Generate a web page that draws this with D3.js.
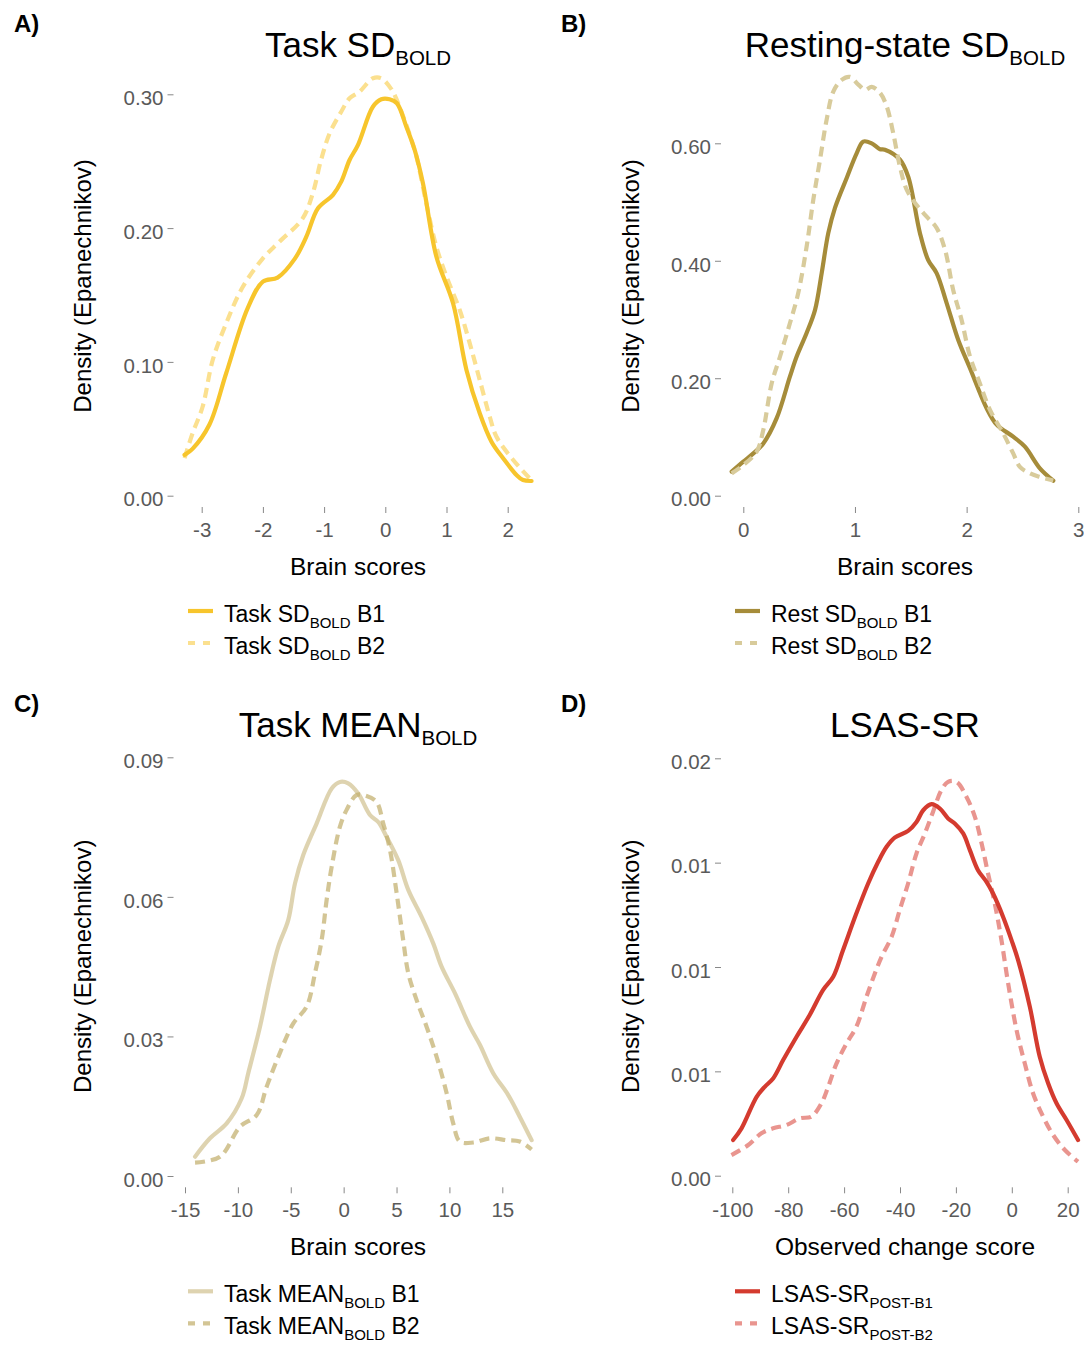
<!DOCTYPE html>
<html><head><meta charset="utf-8">
<script src="https://cdn.jsdelivr.net/npm/d3@7"></script>
<style>
html,body{margin:0;padding:0;background:#fff;}
svg{display:block;font-family:"Liberation Sans",Arial,Helvetica,sans-serif;}
</style></head>
<body>
<svg id="chart" width="1084" height="1345"></svg>
<script>
// ---------- data ----------
const taskSD_B1 = [[-3.28,0.0305],[-3.15,0.035],[-2.875,0.053],[-2.6,0.0915],[-2.25,0.14],[-2.0,0.16],[-1.76,0.163],[-1.48,0.177],[-1.29,0.1936],[-1.1,0.2148],[-0.857,0.2247],[-0.72,0.2347],[-0.584,0.2509],[-0.448,0.262],[-0.203,0.2907],[-0.065,0.2963],[0.07,0.2963],[0.19,0.2933],[0.344,0.2758],[0.48,0.2584],[0.615,0.2335],[0.835,0.1786],[1.107,0.1438],[1.326,0.094],[1.543,0.0616],[1.735,0.0404],[1.925,0.028],[2.144,0.0155],[2.25,0.0117],[2.39,0.011]];
const taskSD_B2 = [[-3.28,0.028],[-3.15,0.0466],[-2.985,0.0665],[-2.82,0.1014],[-2.6,0.1288],[-2.33,0.156],[-2.0,0.1774],[-1.73,0.1898],[-1.35,0.2073],[-1.185,0.226],[-1.05,0.2509],[-0.91,0.2708],[-0.72,0.287],[-0.584,0.297],[-0.42,0.302],[-0.203,0.312],[-0.065,0.312],[0.07,0.3057],[0.152,0.2995],[0.344,0.277],[0.5,0.255],[0.67,0.2185],[0.835,0.186],[1.0,0.1637],[1.216,0.1388],[1.38,0.1139],[1.543,0.0865],[1.707,0.059],[1.817,0.044],[2.09,0.0267],[2.36,0.013]];
const restSD_B1 = [[-0.104,0.041],[0,0.058],[0.09,0.072],[0.179,0.089],[0.299,0.132],[0.418,0.203],[0.478,0.237],[0.567,0.277],[0.642,0.316],[0.702,0.379],[0.761,0.447],[0.821,0.49],[0.926,0.541],[1.015,0.583],[1.074,0.603],[1.15,0.6],[1.224,0.59],[1.268,0.589],[1.403,0.572],[1.477,0.543],[1.582,0.447],[1.656,0.401],[1.731,0.379],[1.821,0.328],[1.925,0.265],[2.03,0.217],[2.179,0.149],[2.269,0.121],[2.417,0.1005],[2.522,0.0835],[2.656,0.0467],[2.776,0.0256]];
const restSD_B2 = [[-0.104,0.038],[0,0.052],[0.12,0.075],[0.179,0.112],[0.254,0.191],[0.329,0.237],[0.418,0.294],[0.492,0.345],[0.567,0.424],[0.627,0.504],[0.687,0.572],[0.746,0.64],[0.806,0.688],[0.881,0.708],[0.955,0.713],[1.03,0.7],[1.09,0.691],[1.15,0.696],[1.224,0.686],[1.284,0.663],[1.343,0.617],[1.403,0.56],[1.463,0.521],[1.552,0.495],[1.642,0.475],[1.731,0.456],[1.806,0.419],[1.88,0.35],[1.955,0.299],[2.03,0.237],[2.119,0.191],[2.209,0.146],[2.328,0.106],[2.417,0.072],[2.477,0.049],[2.567,0.038],[2.656,0.032],[2.776,0.026]];
const taskMEAN_B1 = [[-14.05,0.00415],[-12.64,0.0081],[-11.06,0.0113],[-9.64,0.0167],[-9.02,0.0221],[-7.91,0.0321],[-6.97,0.0421],[-6.18,0.0493],[-5.24,0.055],[-4.6,0.0629],[-3.82,0.069],[-2.55,0.0758],[-1.13,0.0833],[-0.35,0.0847],[0.43,0.0844],[1.38,0.0822],[2.49,0.0776],[3.27,0.0761],[4.06,0.0729],[5.16,0.0679],[6.11,0.0615],[7.37,0.0557],[8.47,0.05],[9.26,0.045],[10.52,0.0393],[11.94,0.0321],[12.88,0.0282],[14.14,0.0221],[15.56,0.0174],[16.66,0.0127],[17.77,0.0077]];
const taskMEAN_B2 = [[-14.05,0.00286],[-11.69,0.00415],[-9.8,0.0106],[-8.22,0.0131],[-7.28,0.0192],[-6.18,0.0256],[-4.76,0.0328],[-3.5,0.0364],[-2.71,0.0436],[-2.08,0.0507],[-1.61,0.0593],[-1.13,0.0665],[-0.35,0.0751],[0.28,0.0787],[1.23,0.0819],[2.17,0.0817],[3.12,0.0804],[3.74,0.0758],[4.38,0.0701],[5.01,0.0608],[5.63,0.0507],[6.11,0.0436],[6.9,0.0378],[7.84,0.0321],[8.79,0.0256],[9.74,0.0178],[10.36,0.0113],[10.99,0.0074],[12.25,0.0072],[13.83,0.0081],[15.41,0.0077],[16.66,0.0074],[17.77,0.0057]];
const lsas_B1 = [[-99.7,0.00171],[-96.7,0.00227],[-91.3,0.00378],[-88.4,0.00426],[-85.4,0.00466],[-81.8,0.00554],[-77.0,0.00666],[-72.3,0.0077],[-67.5,0.0089],[-63.9,0.00953],[-60.4,0.0108],[-55.6,0.01257],[-51.4,0.014],[-47.8,0.01504],[-44.8,0.01576],[-41.9,0.0162],[-37.1,0.01652],[-34.1,0.01695],[-31.7,0.01751],[-28.7,0.0178],[-25.8,0.0176],[-22.8,0.01712],[-20.4,0.01688],[-17.4,0.0164],[-15.0,0.0156],[-12.1,0.01464],[-9.05,0.01408],[-6.7,0.01352],[-3.1,0.0124],[-0.1,0.01129],[2.25,0.01033],[6.44,0.0081],[10.0,0.0057],[13.0,0.00443],[16.0,0.00347],[19.6,0.00267],[23.7,0.00171]];
const lsas_B2 = [[-100.3,0.00099],[-94.3,0.00147],[-89.6,0.00203],[-85.4,0.00227],[-80.6,0.00243],[-75.8,0.00275],[-71.7,0.00283],[-68.1,0.00347],[-65.7,0.00426],[-62.7,0.00538],[-59.1,0.00634],[-55.6,0.00714],[-52.0,0.00857],[-49.0,0.00969],[-46.6,0.01049],[-43.0,0.01145],[-40.1,0.01273],[-37.1,0.014],[-34.1,0.01544],[-31.1,0.0164],[-28.2,0.01743],[-25.2,0.01847],[-22.8,0.01887],[-19.8,0.01887],[-16.2,0.01815],[-13.2,0.01719],[-10.8,0.01592],[-8.5,0.01448],[-6.1,0.01305],[-3.7,0.01129],[-1.3,0.00921],[1.7,0.00698],[4.65,0.00538],[7.6,0.00395],[11.2,0.00283],[14.8,0.00195],[19.0,0.00123],[23.7,0.00067]];

const xTicksA = [-3,-2,-1,0,1,2];
const xTicksB = [0,1,2,3];
const xTicksC = [-15,-10,-5,0,5,10,15];
const xTicksD = [-100,-80,-60,-40,-20,0,20];
const yTicksA = [0,0.1,0.2,0.3];
const yTicksB = [0,0.2,0.4,0.6];
const yTicksC = [0,0.03,0.06,0.09];
const yTicksD = [0,0.005,0.01,0.015,0.02];
const yTickLabelsD = ["0.00","0.01","0.01","0.01","0.02"];

const panelLetters = ["A)","B)","C)","D)"];
const titles = [["Task SD","BOLD"],["Resting-state SD","BOLD"],["Task MEAN","BOLD"],["LSAS-SR",""]];
const xTitles = ["Brain scores","Brain scores","Brain scores","Observed change score"];
const yTitle = "Density (Epanechnikov)";
const legendA = [["Task SD","BOLD"," B1"],["Task SD","BOLD"," B2"]];
const legendB = [["Rest SD","BOLD"," B1"],["Rest SD","BOLD"," B2"]];
const legendC = [["Task MEAN","BOLD"," B1"],["Task MEAN","BOLD"," B2"]];
const legendD = [["LSAS-SR","POST-B1",""],["LSAS-SR","POST-B2",""]];

// ---------- drawing ----------
const svg = d3.select("#chart");
const ROW = 680.3;
const hyphenInt = d => String(d);

const panels = [
  {letter:panelLetters[0], lx:14, title:titles[0], xt:xTitles[0], leg:legendA, oy:0, cx:358, ytx:83,
   xd:[-3,2], xr:[201.7,507.7], yd:[0,0.3], yr:[495.7,94.3], axX:173.5, xTicks:xTicksA, yTicks:yTicksA, yFmt:d3.format(".2f"),
   series:[{d:taskSD_B2,c:"#fbe08f",dash:true},{d:taskSD_B1,c:"#f7c52c",dash:false}], legX:188},
  {letter:panelLetters[1], lx:561, title:titles[1], xt:xTitles[1], leg:legendB, oy:0, cx:905, ytx:631,
   xd:[0,3], xr:[743.3,1078.3], yd:[0,0.6], yr:[495.7,143.3], axX:721, xTicks:xTicksB, yTicks:yTicksB, yFmt:d3.format(".2f"),
   series:[{d:restSD_B1,c:"#a68c3a",dash:false},{d:restSD_B2,c:"#d8cb9b",dash:true}], legX:735},
  {letter:panelLetters[2], lx:14, title:titles[2], xt:xTitles[2], leg:legendC, oy:ROW, cx:358, ytx:83,
   xd:[-15,15], xr:[185,502.3], yd:[0,0.09], yr:[1176,757.3], axX:173.5, xTicks:xTicksC, yTicks:yTicksC, yFmt:d3.format(".2f"),
   series:[{d:taskMEAN_B1,c:"#c8b67c",dash:false,op:0.6},{d:taskMEAN_B2,c:"#c2ae6c",dash:true,op:0.72}], legX:188},
  {letter:panelLetters[3], lx:561, title:titles[3], xt:xTitles[3], leg:legendD, oy:ROW, cx:905, ytx:631,
   xd:[-100,20], xr:[732.3,1067.7], yd:[0,0.02], yr:[1175.7,758.3], axX:721, xTicks:xTicksD, yTicks:yTicksD, yFmt:(d,i)=>yTickLabelsD[i],
   series:[{d:lsas_B2,c:"#e9958f",dash:true},{d:lsas_B1,c:"#d43b2f",dash:false}], legX:735}
];

const DASH = "10,6";
const SW = 4.2;

panels.forEach((p,pi)=>{
  const g = svg.append("g");
  const x = d3.scaleLinear().domain(p.xd).range(p.xr);
  const y = d3.scaleLinear().domain(p.yd).range(p.yr);

  // panel letter
  g.append("text").attr("x",p.lx).attr("y",32+p.oy).attr("font-size",24).attr("font-weight","bold").attr("fill","#000").text(p.letter);

  // title
  const t = g.append("text").attr("x",p.cx).attr("y",57+p.oy).attr("text-anchor","middle").attr("font-size",35).attr("fill","#000");
  t.append("tspan").text(p.title[0]);
  if (p.title[1]) t.append("tspan").attr("font-size",20.5).attr("dy",8).text(p.title[1]);

  // y axis
  const ya = d3.axisLeft(y).tickValues(p.yTicks).tickSize(6).tickPadding(4).tickFormat(p.yFmt);
  const yg = g.append("g").attr("transform",`translate(${p.axX},0)`).call(ya);
  yg.select(".domain").remove();
  yg.selectAll(".tick line").attr("stroke","#888").attr("stroke-width",1);
  yg.selectAll(".tick text").attr("fill","#5a5a5a").attr("font-size",20.5).attr("dy","0.5em").attr("font-family","Liberation Sans, Arial, sans-serif");

  // x axis
  const xAxisY = 507 + p.oy;
  const xa = d3.axisBottom(x).tickValues(p.xTicks).tickSize(6).tickPadding(9).tickFormat(hyphenInt);
  const xg = g.append("g").attr("transform",`translate(0,${xAxisY})`).call(xa);
  xg.select(".domain").remove();
  xg.selectAll(".tick line").attr("stroke","#888").attr("stroke-width",1);
  xg.selectAll(".tick text").attr("fill","#5a5a5a").attr("font-size",20.5).attr("font-family","Liberation Sans, Arial, sans-serif");

  // axis titles
  g.append("text").attr("x",p.cx).attr("y",575+p.oy).attr("text-anchor","middle").attr("font-size",24.5).attr("fill","#000").text(p.xt);
  g.append("text").attr("transform",`translate(${p.ytx+8},${286+p.oy}) rotate(-90)`).attr("text-anchor","middle").attr("font-size",24).attr("fill","#000").text(yTitle);

  // lines
  const line = d3.line().x(d=>x(d[0])).y(d=>y(d[1])).curve(d3.curveCatmullRom.alpha(0.5));
  p.series.forEach(s=>{
    g.append("path").datum(s.d).attr("d",line).attr("fill","none").attr("stroke",s.c)
      .attr("stroke-width",SW).attr("stroke-opacity",s.op||1)
      .attr("stroke-linejoin","round").attr("stroke-linecap",s.dash?"butt":"round")
      .attr("stroke-dasharray",s.dash?DASH:null);
  });

  // legend
  const solid = p.series.find(s=>!s.dash), dashed = p.series.find(s=>s.dash);
  [solid,dashed].forEach((s,i)=>{
    const ly = 611 + p.oy + i*32;
    g.append("line").attr("x1",p.legX).attr("x2",p.legX+25).attr("y1",ly).attr("y2",ly)
      .attr("stroke",s.c).attr("stroke-width",SW).attr("stroke-opacity",s.op||1)
      .attr("stroke-dasharray",s.dash?"7,8":null);
    const lt = g.append("text").attr("x",p.legX+36).attr("y",ly+11).attr("font-size",23).attr("fill","#000");
    const L = p.leg[i];
    lt.append("tspan").text(L[0]);
    lt.append("tspan").attr("font-size",15).attr("dy",6).text(L[1]);
    if (L[2]) lt.append("tspan").attr("dy",-6).text(L[2]);
  });
});
</script>
</body></html>
